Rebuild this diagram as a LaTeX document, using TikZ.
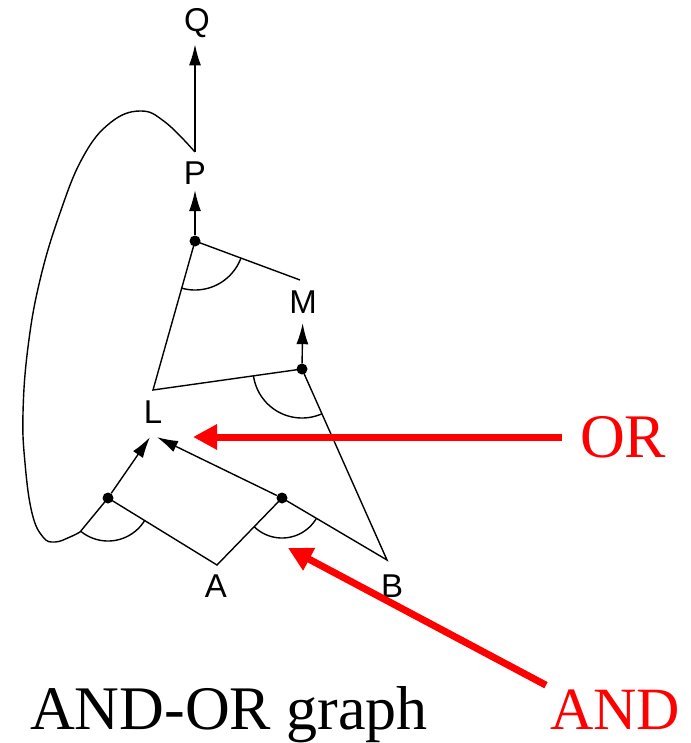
\documentclass[tikz,border=0pt]{standalone}
\usepackage{fontspec}
\setmainfont{Liberation Serif}
\newfontfamily\helv{Liberation Sans}
\usetikzlibrary{arrows.meta,calc}
\begin{document}
\begin{tikzpicture}[x=1pt,y=-1pt,
  lab/.style={font=\helv\fontsize{33}{33}\selectfont, inner xsep=0pt, anchor=base},
  edge/.style={line width=1.4pt, black},
  blk/.style={-{Latex[length=21pt,width=12pt]}},
  dot/.style={circle, fill=black, inner sep=0pt, minimum size=11pt},
  redarrow/.style={red, line width=7pt, -{Triangle[length=24pt,width=24pt]}},
  bigtext/.style={font=\fontsize{62}{62}\selectfont, inner sep=0pt}
]
\useasboundingbox (0,0) rectangle (690,743);

% labels
\node[lab, inner ysep=6pt] (Q) at (197,32) {Q};
\node[lab, inner ysep=5pt] (P) at (195,185) {P};
\node[lab, inner ysep=10pt] (M) at (303,313) {M};
\node[lab, inner ysep=14pt] (L) at (153,423) {L};
\node[lab, inner ysep=0pt] (A) at (216,597) {A};
\node[lab, inner ysep=0pt] (B) at (392,597) {B};

% junction points
\coordinate (ptop) at (195,152);
\coordinate (mtop) at (300,280);
\coordinate (Lc) at (153,390);
\coordinate (Ac) at (217,565);
\coordinate (Bc) at (387,560);

% AND nodes
\node[dot] (d1) at (195,241) {};
\node[dot] (d2) at (302,369) {};
\node[dot] (d3) at (108,498) {};
\node[dot] (d4) at (282,498) {};

% edges
\draw[edge] (d1.center) -- (Lc) -- (d2.center);
\draw[edge] (d1.center) -- (mtop);
\draw[edge] (d2.center) -- (Bc) -- (d4.center) -- (Ac) -- (d3.center);
\draw[edge, blk] (ptop) -- (Q.south -| ptop);
\draw[edge, blk] (d1) -- (P);
\draw[edge, blk] (d2) -- (M);
\draw[edge, blk] (d3) -- ([xshift=-3pt]L.south);
\draw[edge, blk] (d4) -- ([xshift=4pt]L.south);

% loop from P to left AND node
\draw[edge] plot[smooth, tension=0.7] coordinates {(ptop) (165,122) (140,111) (110,123) (83,157) (60,213) (40,280) (28,347) (23,413) (25,463) (32,513) (43,537) (55,542) (70,537) (80,532)} -- (d3.center);

% AND arcs
\begin{scope}[shift={(d1.center)}]
  \draw[edge] plot[domain=20.4:105.7, samples=40, variable=\t] (\t:49);
\end{scope}
\begin{scope}[shift={(d2.center)}]
  \draw[edge] plot[domain=66:172, samples=40, variable=\t] (\t:49);
\end{scope}
\begin{scope}[shift={(d3.center)}]
  \draw[edge] plot[domain=31.6:129.5, samples=40, variable=\t] (\t:43);
\end{scope}
\begin{scope}[shift={(d4.center)}]
  \draw[edge] plot[domain=30.6:134, samples=40, variable=\t] (\t:40);
\end{scope}

% annotations
\node[bigtext, text=red, inner xsep=18pt, anchor=base west] (OR) at (562,457) {OR};
\coordinate (ortip) at (193,437);
\draw[redarrow] (OR.west |- ortip) -- (ortip);

\node[bigtext, font=\fontsize{60}{60}\selectfont, text=red, anchor=base west] (AND) at (550,729) {AND};
\coordinate (andtip) at (288,548);
\draw[redarrow] ([shift={(-4,-4)}]AND.north west) -- (andtip);

\node[bigtext, anchor=base west] (title) at (30,729) {AND-OR graph};
\end{tikzpicture}
\end{document}
